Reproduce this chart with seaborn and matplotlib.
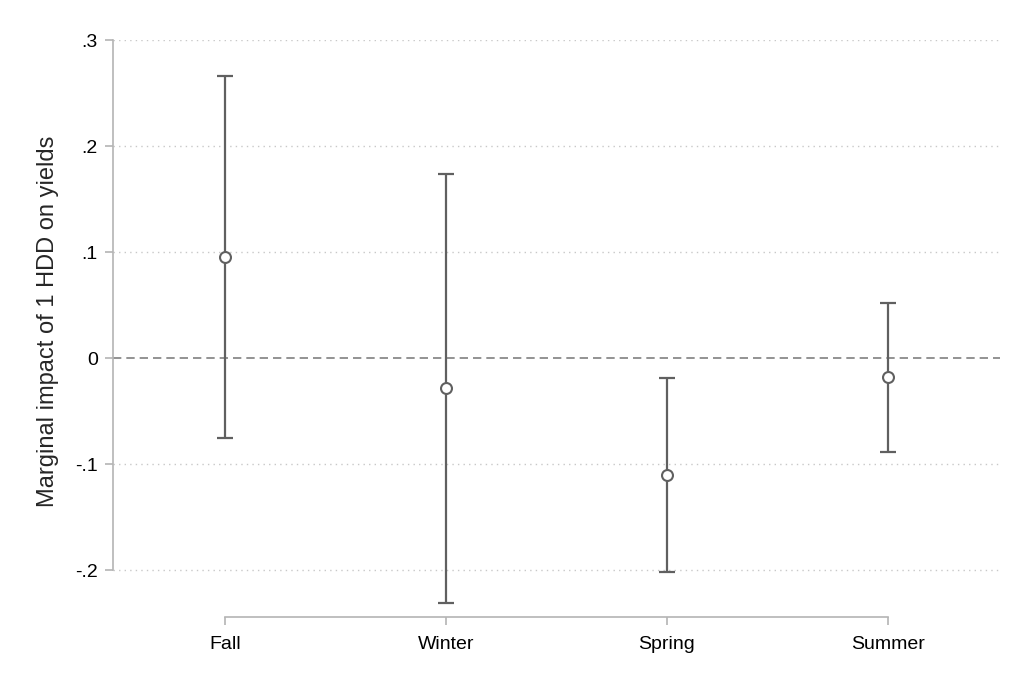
import numpy as np
import pandas as pd
import matplotlib
matplotlib.use("Agg")
import matplotlib.pyplot as plt
import seaborn as sns

seasons = ["Fall", "Winter", "Spring", "Summer"]
estimate = [0.095, -0.028, -0.110, -0.018]
lower = [-0.075, -0.231, -0.202, -0.088]
upper = [0.266, 0.174, -0.019, 0.052]
yticks = [-0.2, -0.1, 0.0, 0.1, 0.2, 0.3]
ytick_labels = ["-.2", "-.1", "0", ".1", ".2", ".3"]

sns.set_theme(style="white")
plt.rcParams["font.family"] = ["Liberation Sans", "DejaVu Sans"]

df = pd.DataFrame({"season": seasons, "estimate": estimate,
                   "lower": lower, "upper": upper})

fig = plt.figure(figsize=(10.23, 6.82), dpi=100)
ax = fig.add_axes([0.1105, 0.0953, 0.867, 0.846])

grid_c = "#c8c8c8"
for yv in yticks:
    if yv != 0:
        ax.axhline(yv, color=grid_c, lw=1.0, ls=(0, (1, 3)), zorder=0)
ax.axhline(0, color="#808080", lw=1.2, ls=(0, (5, 3)), zorder=1)

pos = np.arange(len(seasons))
ax.errorbar(pos, df["estimate"],
            yerr=[df["estimate"] - df["lower"], df["upper"] - df["estimate"]],
            fmt="none", ecolor="#606060", elinewidth=1.6, capsize=6,
            capthick=1.6, zorder=2)
sns.scatterplot(data=df, x="season", y="estimate", ax=ax, s=62,
                facecolor="white", edgecolor="#606060", linewidth=1.5,
                zorder=3)

ax.set_xlim(-0.507, 3.507)
ax.set_ylim(-0.244, 0.3)
ax.set_yticks(yticks)
ax.set_yticklabels(ytick_labels)
ax.set_xticks(pos)
ax.set_xticklabels(seasons)
ax.set_xlabel("")
ax.set_ylabel("Marginal impact of 1 HDD on yields", fontsize=17, labelpad=9)
ax.yaxis.set_label_coords(-0.061, 0.513)

for s in ["top", "right"]:
    ax.spines[s].set_visible(False)
spine_c = "#b4b4b4"
ax.spines["left"].set_bounds(-0.2, 0.3)
ax.spines["bottom"].set_bounds(0, 3)
for s in ["left", "bottom"]:
    ax.spines[s].set_color(spine_c)
    ax.spines[s].set_linewidth(1.2)
ax.tick_params(axis="both", which="major", length=6, width=1.2,
               color=spine_c, labelsize=14, labelcolor="black",
               left=True, bottom=True, direction="out", pad=5)
ax.tick_params(axis="x", pad=8)

fig.savefig("out.png", dpi=100, facecolor="white")
